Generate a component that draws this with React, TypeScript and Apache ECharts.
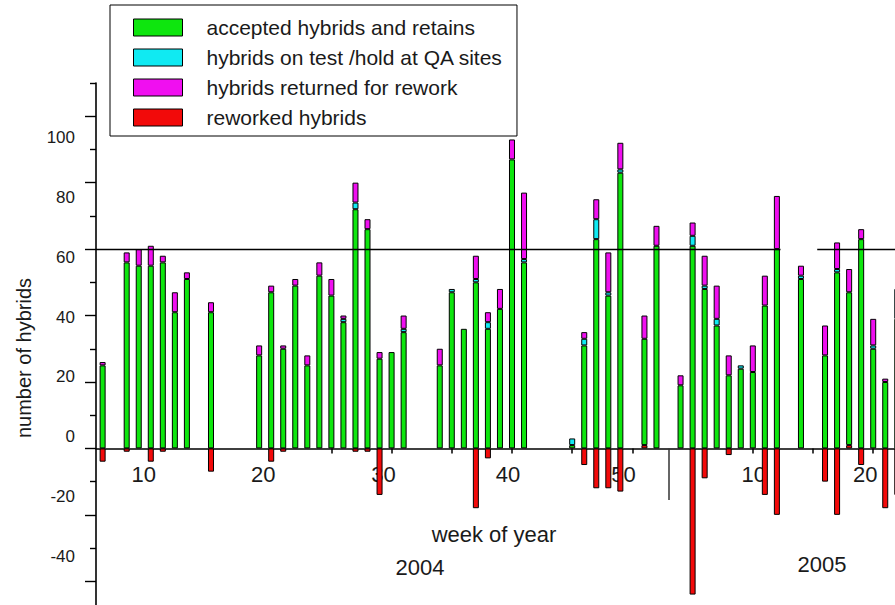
import React, { useEffect, useRef } from "react";
import * as echarts from "echarts";

// Position of each weekly column on the running week axis
// (2004 weeks as numbered, 2005 continues after the year break at 53).
const weekPos = [
  6, 8, 9, 10, 11, 12, 13, 15,
  19, 20, 21, 22, 23, 24, 25, 26, 27, 28, 29, 30, 31,
  34, 35, 36, 37, 38, 39, 40, 41,
  45, 46, 47, 48, 49, 51, 52,
  54, 55, 56, 57, 58, 59, 60, 61, 62, 64,
  66, 67, 68, 69, 70, 71, 72,
];

const accepted = [
  25, 56, 55, 55, 56, 41, 51, 41,
  28, 47, 30, 49, 25, 52, 46, 38, 72, 66, 27, 29, 35,
  25, 47, 36, 50, 36, 42, 87, 56,
  1, 31, 63, 46, 83, 32, 61,
  19, 61, 48, 37, 22, 24, 23, 43, 60, 51,
  28, 53, 46, 63, 30, 20, 39,
];

const onTest = [
  0, 0, 0, 0, 0, 0, 0, 0,
  0, 0, 0, 0, 0, 0, 0, 1, 2, 0, 0, 0, 1,
  0, 1, 0, 1, 2, 0, 0, 1,
  2, 2, 6, 1, 1, 0, 0,
  0, 3, 1, 2, 0, 1, 0, 0, 0, 1,
  0, 1, 0, 0, 1, 0, 9,
];

const returned = [
  1, 3, 5, 6, 2, 6, 2, 3,
  3, 2, 1, 2, 3, 4, 5, 1, 6, 3, 2, 0, 4,
  5, 0, 0, 7, 3, 6, 6, 20,
  0, 2, 6, 12, 8, 7, 6,
  3, 4, 9, 10, 6, 0, 8, 9, 16, 3,
  9, 8, 7, 3, 8, 1, 0,
];

const reworked = [
  -4, -1, 0, -4, -1, 0, 0, -7,
  0, -4, -1, 0, 0, 0, 0, 0, -1, -1, -14, 0, 0,
  0, 0, 0, -18, -3, 0, 0, 0,
  0, -5, -12, -12, -13, 1, 0,
  0, -44, -9, 0, -2, 0, 0, -14, -20, 0,
  -10, -20, 1, -5, 0, -18, -14,
];

const seriesNames = [
  "accepted hybrids and retains",
  "hybrids on test /hold at QA sites",
  "hybrids returned for rework",
  "reworked hybrids",
];
const seriesColors = ["#0ee60e", "#10eaf2", "#f00ff0", "#f20a0a"];

// x axis: ticks every 5 weeks, labels restart at the 2005 break
const xMin = 5.45;
const xMax = 71.81;
const xTickValues = [10, 15, 20, 25, 30, 35, 40, 45, 50, 55, 60, 65, 70];
const xLabelValues = [10, 20, 30, 40, 50, 60, 70];
const xLabelTexts = ["10", "20", "30", "40", "50", "10", "20"];
// horizontal nudge (px) of each printed week label relative to its tick
const xLabelNudge = [-7, -8, -8, -4, -9, 1, -8];

// y axis: scale, short and long ticks, and the printed tick labels
const yMin = -50;
const yMax = 110;
const yShortTicks = [-50, -30, -10, 10, 30, 50, 70, 90, 110];
const yLongTicks = [-40, -20, 0, 20, 40, 60, 80, 100];
const yLabelValues = [-40, -20, 0, 20, 40, 60, 80, 100];
const yLabelMin = -59.1667;
const yLabelMax = 118;

// target line at 60 hybrids (drawn in two pieces) and the year break
const targetLevel = 60;
const targetGap = [62.3, 65.35];
const yearBreak = 53;
const yearBreakDepth = -15.5;

const FONT = "'Liberation Sans', Arial, Helvetica, sans-serif";
const INK = "#1a1a1a";

const GRID_LEFT = 96;
const GRID_TOP = 83;
const GRID_W = 799;
const GRID_H = 531.5;
// distance from the grid bottom up to the zero line
const zeroLift = (GRID_H * (0 - yMin)) / (yMax - yMin);

// value first, week second, so the stack runs on the value dimension
const toBarData = (vals: number[]) =>
  weekPos.map((w, i) => [vals[i] === 0 ? null : vals[i], w]);

const labelRich: Record<string, any> = {};
xLabelNudge.forEach((n, i) => {
  labelRich["s" + i] = {
    fontSize: 22,
    fontFamily: FONT,
    color: INK,
    padding: n < 0 ? [0, -2 * n, 0, 0] : [0, 0, 0, 2 * n],
  };
});

function buildOption(): echarts.EChartsOption {
  const stackedBar = (name: string, vals: number[], color: string) => ({
    type: "bar" as const,
    name,
    stack: "hybrids",
    barWidth: 6,
    xAxisIndex: 0,
    yAxisIndex: 0,
    clip: true,
    encode: { x: 1, y: 0 },
    itemStyle: { color, borderColor: "#000", borderWidth: 1 },
    emphasis: { disabled: true },
    data: toBarData(vals),
  });

  const centered = (text: string, x: number, y: number, size: number, rotation = 0) => ({
    type: "text",
    x,
    y,
    rotation,
    style: {
      text,
      fontSize: size,
      fontFamily: FONT,
      fill: INK,
      align: "center",
      verticalAlign: "middle",
      textAlign: "center",
      textVerticalAlign: "middle",
    },
  });

  return {
    animation: false,
    backgroundColor: "#fff",
    textStyle: { fontFamily: FONT },
    grid: {
      left: GRID_LEFT,
      top: GRID_TOP,
      width: GRID_W,
      height: GRID_H,
      outerBoundsMode: "none",
    } as any,
    legend: {
      orient: "vertical",
      left: 110,
      top: 5,
      padding: [12, 14, 8, 23],
      itemWidth: 49,
      itemHeight: 17,
      itemGap: 9,
      icon: "rect",
      selectedMode: false,
      borderColor: "#000",
      borderWidth: 1,
      itemStyle: { borderColor: "#000", borderWidth: 1 },
      textStyle: {
        fontSize: 21,
        fontFamily: FONT,
        color: INK,
        lineHeight: 17,
        padding: [0, 0, 0, 19],
      },
      data: seriesNames,
    },
    xAxis: {
      type: "value",
      position: "bottom",
      min: xMin,
      max: xMax,
      offset: -zeroLift,
      axisLine: {
        show: true,
        onZero: false,
        lineStyle: { color: "#000", width: 1.6 },
      },
      axisTick: {
        show: true,
        length: 5,
        customValues: xTickValues,
        lineStyle: { color: "#000", width: 1.5 },
      },
      axisLabel: {
        show: true,
        customValues: xLabelValues,
        formatter: (v: number) => {
          const i = xLabelValues.indexOf(Math.round(v));
          return i >= 0 ? `{s${i}|${xLabelTexts[i]}}` : "";
        },
        rich: labelRich,
        margin: 15,
        fontSize: 22,
        fontFamily: FONT,
        color: INK,
      },
      splitLine: { show: false },
    } as any,
    yAxis: [
      {
        type: "value",
        position: "left",
        min: yMin,
        max: yMax,
        axisLine: { show: true, onZero: false, lineStyle: { color: "#000", width: 1.6 } },
        axisTick: {
          show: true,
          length: 6,
          customValues: yShortTicks,
          lineStyle: { color: "#000", width: 1.4 },
        },
        axisLabel: { show: false },
        splitLine: { show: false },
      },
      {
        type: "value",
        position: "left",
        min: yMin,
        max: yMax,
        axisLine: { show: false },
        axisTick: {
          show: true,
          length: 11,
          customValues: yLongTicks,
          lineStyle: { color: "#000", width: 1.4 },
        },
        axisLabel: { show: false },
        splitLine: { show: false },
      },
      {
        type: "value",
        position: "left",
        min: yLabelMin,
        max: yLabelMax,
        axisLine: { show: false },
        axisTick: { show: false },
        axisLabel: {
          show: true,
          customValues: yLabelValues,
          margin: 21,
          fontSize: 17,
          fontFamily: FONT,
          color: INK,
        },
        splitLine: { show: false },
      },
    ] as any,
    series: [
      stackedBar(seriesNames[3], reworked, seriesColors[3]),
      stackedBar(seriesNames[0], accepted, seriesColors[0]),
      stackedBar(seriesNames[1], onTest, seriesColors[1]),
      stackedBar(seriesNames[2], returned, seriesColors[2]),
      {
        type: "line",
        xAxisIndex: 0,
        yAxisIndex: 0,
        data: [],
        silent: true,
        markLine: {
          silent: true,
          symbol: "none",
          z: 10,
          label: { show: false },
          emphasis: { disabled: true },
          lineStyle: { color: "#000", width: 1.3, type: "solid" },
          data: [
            [{ coord: [xMin, targetLevel] }, { coord: [targetGap[0], targetLevel] }],
            [{ coord: [targetGap[1], targetLevel] }, { coord: [xMax, targetLevel] }],
            [
              { coord: [yearBreak, 0], lineStyle: { color: "#333", width: 1.5 } },
              { coord: [yearBreak, yearBreakDepth] },
            ],
          ],
        },
      } as any,
    ],
    graphic: [
      centered("number of hybrids", 24, 358, 20, Math.PI / 2),
      centered("week of year", 494, 534, 22),
      centered("2004", 420, 567, 22),
      centered("2005", 822, 564, 22),
    ] as any,
  };
}

export default function App() {
  const ref = useRef<HTMLDivElement>(null);
  useEffect(() => {
    if (!ref.current) return;
    const chart = echarts.init(ref.current, null, { renderer: "svg" });
    chart.setOption(buildOption());
    return () => chart.dispose();
  }, []);
  return (
    <div
      style={{
        position: "fixed",
        left: 0,
        top: 0,
        width: 895,
        height: 605,
        overflow: "hidden",
        background: "#fff",
      }}
    >
      <div ref={ref} style={{ width: 895, height: 620 }} />
    </div>
  );
}
